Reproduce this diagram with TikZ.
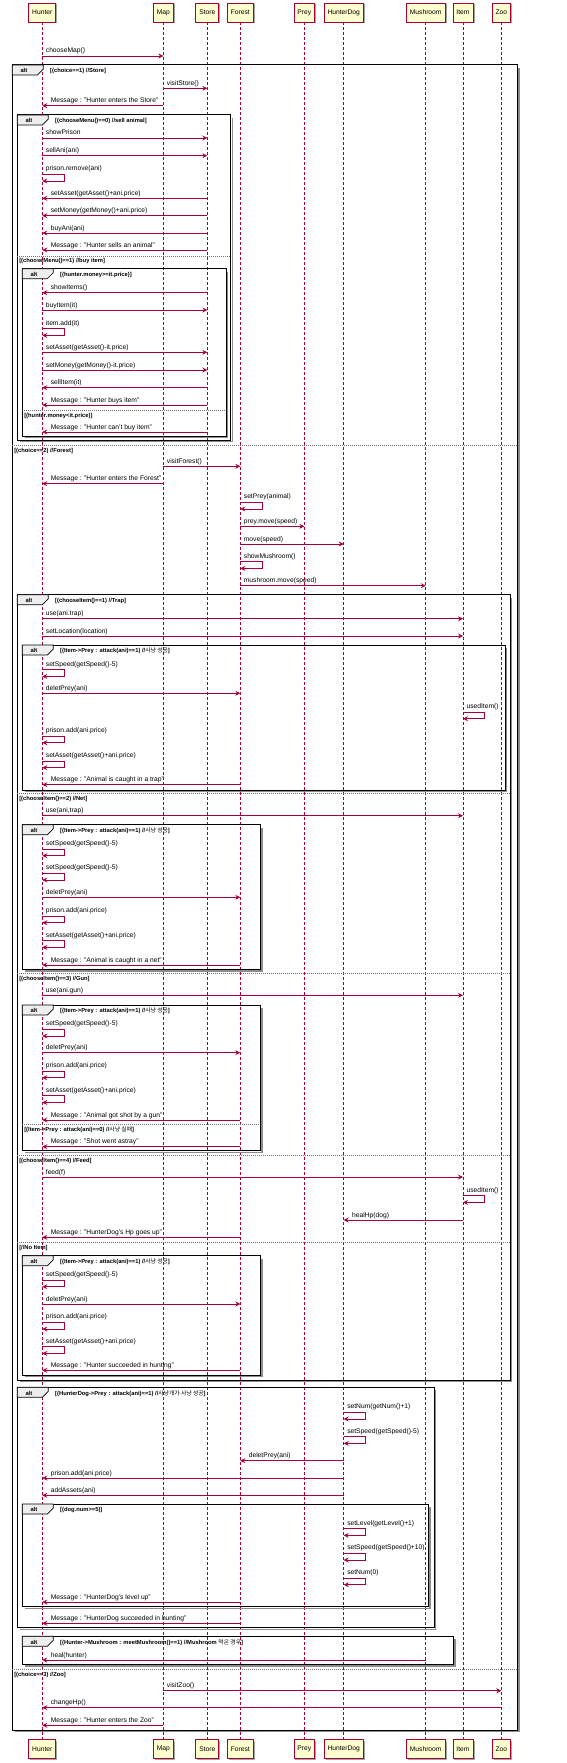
\documentclass[tikz,border=0pt]{standalone}
\usepackage{fontspec}
\setmainfont{Liberation Sans}
\newfontfamily\kr{Noto Sans CJK KR}
\usetikzlibrary{arrows.meta,shadows}
\definecolor{pu}{HTML}{A80036}
\definecolor{pbox}{HTML}{FEFECE}
\definecolor{tabc}{HTML}{EEEEEE}
\tikzset{
  part/.style={draw=pu, fill=pbox, line width=0.8pt, minimum height=19pt, inner xsep=3.5pt, inner ysep=0pt,
    font=\fontsize{6.7}{8}\selectfont,
    drop shadow={shadow xshift=1.5pt,shadow yshift=-1.5pt,opacity=0.35,fill=black}},
  life/.style={draw=pu, line width=0.5pt, dash pattern=on 2.5pt off 2.5pt},
  msgline/.style={draw=pu, line width=0.6pt, -{Stealth[length=5pt,width=5pt,inset=1.8pt]}},
  lbl/.style={inner sep=0pt, font=\fontsize{6.7}{8}\selectfont},
  flbl/.style={inner sep=0pt, font=\fontsize{5.8}{7}\selectfont\bfseries},
  frline/.style={draw=black, line width=1pt},
  frshadow/.style={draw=black!45, line width=1.6pt},
  sepline/.style={draw=black!55, line width=0.5pt, dash pattern=on 1pt off 1pt}
}
\newcommand\msgr[4]{%
  \draw[msgline] (#1|-0,#3) -- (#2|-0,#3);
  \node[lbl,anchor=base west,xshift=3.4pt,yshift=3pt] at (#1|-0,#3) {#4};}
\newcommand\msgl[4]{%
  \draw[msgline] (#1|-0,#3) -- (#2|-0,#3);
  \node[lbl,anchor=base west,xshift=8.3pt,yshift=3pt] at (#2|-0,#3) {#4};}
\newcommand\selfmsg[3]{%
  \draw[msgline] (#1|-0,#2) -- ++(21.7,0) -- ++(0,6.7) -- ++(-21.7,0);
  \node[lbl,anchor=base west,xshift=3.4pt,yshift=3.5pt] at (#1|-0,#2) {#3};}
\newcommand\frm[5]{%
  \draw[frshadow] (#1+3,#4+1.6) -- (#3+1.6,#4+1.6) -- (#3+1.6,#2+3);
  \draw[frline] (#1,#2) rectangle (#3,#4);
  \draw[frline,fill=tabc,line width=0.7pt] (#1,#2) -- (#1+31,#2) -- (#1+31,#2+4) -- (#1+25,#2+10) -- (#1,#2+10) -- cycle;
  \node[flbl,anchor=base west] at (#1+8,#2+7.8) {alt};
  \node[flbl,anchor=base west] at (#1+37.7,#2+7.8) {#5};}
\newcommand\sepl[4]{%
  \draw[sepline] (#1,#3) -- (#2,#3);
  \node[flbl,anchor=base west] at (#1+1.8,#3+6.8) {#4};}
\begin{document}
\begin{tikzpicture}[x=1pt,y=-1pt]
\useasboundingbox (0,0) rectangle (567,1763);
% participants
\foreach \n/\x in {Hunter/42.3,Map/163.3,Store/207.3,Forest/240.3,Prey/304.3,HunterDog/343.7,Mushroom/425.7,Item/463,Zoo/501.3}{
  \node[part] (p\n) at (\x,12.5) {\n};
  \node[part] (q\n) at (\x,1749) {\n};
}
\foreach \n in {Hunter,Map,Store,Forest,Prey,HunterDog,Mushroom,Item,Zoo}{
  \draw[life] (p\n.south) -- (q\n.north);
}
\msgr{pHunter}{pMap}{56}{chooseMap()}
\frm{12.3}{65}{517.3}{1730}{[(choice==1) //Store]}
\msgr{pMap}{pStore}{88.3}{visitStore()}
\msgl{pMap}{pHunter}{105.7}{Message : "Hunter enters the Store"}
\frm{17.3}{115}{230.7}{440}{[(chooseMenu()==0) //sell animal]}
\msgr{pHunter}{pStore}{138}{showPrison}
\msgr{pHunter}{pStore}{155.7}{sellAni(ani)}
\selfmsg{pHunter}{174.3}{prison.remove(ani)}
\msgl{pStore}{pHunter}{198.3}{setAsset(getAsset()+ani.price)}
\msgl{pStore}{pHunter}{215.7}{setMoney(getMoney()+ani.price)}
\msgl{pStore}{pHunter}{233}{buyAni(ani)}
\msgl{pStore}{pHunter}{250}{Message : "Hunter sells an animal"}
\sepl{17.3}{230.7}{256}{[(chooseMenu()==1) //buy item]}
\frm{22.3}{268.7}{226}{436}{[(hunter.money>=it.price)]}
\msgl{pStore}{pHunter}{292.7}{showItems()}
\msgr{pHunter}{pStore}{310}{buyItem(it)}
\selfmsg{pHunter}{328.7}{item.add(it)}
\msgr{pHunter}{pStore}{352.3}{setAsset(getAsset()-it.price)}
\msgr{pHunter}{pStore}{370}{setMoney(getMoney()-it.price)}
\msgl{pStore}{pHunter}{387.7}{sellItem(it)}
\msgl{pStore}{pHunter}{405}{Message : "Hunter buys item"}
\sepl{22.3}{226}{410.3}{[(hunter.money<it.price)]}
\msgl{pStore}{pHunter}{432}{Message : "Hunter can't buy item"}
\sepl{12.3}{517.3}{445.3}{[(choice==2) //Forest]}
\msgr{pMap}{pForest}{466.3}{visitForest()}
\msgl{pMap}{pHunter}{483.7}{Message : "Hunter enters the Forest"}
\selfmsg{pForest}{502.3}{setPrey(animal)}
\msgr{pForest}{pPrey}{526.3}{prey.move(speed)}
\msgr{pForest}{pHunterDog}{544}{move(speed)}
\selfmsg{pForest}{561.7}{showMushroom()}
\msgr{pForest}{pMushroom}{585.7}{mushroom.move(speed)}
\frm{17.3}{594.7}{510}{1380}{[(chooseItem()==1) //Trap]}
\msgr{pHunter}{pItem}{618.7}{use(ani.trap)}
\msgr{pHunter}{pItem}{636}{setLocation(location)}
\frm{22.3}{645}{505}{790}{[(Item->Prey : attack(ani)==1) //{\mdseries\kr 사냥 성공}]}
\selfmsg{pHunter}{669.7}{setSpeed(getSpeed()-5)}
\msgr{pHunter}{pForest}{693.3}{deletPrey(ani)}
\selfmsg{pItem}{712}{usedItem()}
\selfmsg{pHunter}{736}{prison.add(ani.price)}
\selfmsg{pHunter}{761}{setAsset(getAsset()+ani.price)}
\msgl{pForest}{pHunter}{784.7}{Message : "Animal is caught in a trap"}
\sepl{17.3}{510}{793.7}{[(chooseItem()==2) //Net]}
\msgr{pHunter}{pItem}{815.7}{use(ani,trap)}
\frm{22.3}{824.7}{260.3}{969.3}{[(Item->Prey : attack(ani)==1) //{\mdseries\kr 사냥 성공}]}
\selfmsg{pHunter}{849}{setSpeed(getSpeed()-5)}
\selfmsg{pHunter}{873.3}{setSpeed(getSpeed()-5)}
\msgr{pHunter}{pForest}{897.3}{deletPrey(ani)}
\selfmsg{pHunter}{916}{prison.add(ani.price)}
\selfmsg{pHunter}{940.7}{setAsset(getAsset()+ani.price)}
\msgl{pForest}{pHunter}{965}{Message : "Animal is caught in a net"}
\sepl{17.3}{510}{973.3}{[(chooseItem()==3) //Gun]}
\msgr{pHunter}{pItem}{995.3}{use(ani.gun)}
\frm{22.3}{1005}{260.3}{1150.7}{[(Item->Prey : attack(ani)==1) //{\mdseries\kr 사냥 성공}]}
\selfmsg{pHunter}{1029.3}{setSpeed(getSpeed()-5)}
\msgr{pHunter}{pForest}{1052.7}{deletPrey(ani)}
\selfmsg{pHunter}{1071}{prison.add(ani.price)}
\selfmsg{pHunter}{1095.7}{setAsset(getAsset()+ani.price)}
\msgl{pForest}{pHunter}{1120}{Message : "Animal got shot by a gun"}
\sepl{22.3}{260.3}{1124.7}{[(Item->Prey : attack(ani)==0) //{\mdseries\kr 사냥 실패}]}
\msgl{pForest}{pHunter}{1146.7}{Message : "Shot went astray"}
\sepl{17.3}{510}{1155.7}{[(chooseItem()==4) //Feed]}
\msgr{pHunter}{pItem}{1177}{feed(f)}
\selfmsg{pItem}{1195.7}{usedItem()}
\msgl{pItem}{pHunterDog}{1220}{healHp(dog)}
\msgl{pForest}{pHunter}{1237.3}{Message : "HunterDog's Hp goes up"}
\sepl{17.3}{510}{1242.7}{[//No Item]}
\frm{22.3}{1255.7}{260.3}{1375}{[(Item->Prey : attack(ani)==1) //{\mdseries\kr 사냥 성공}]}
\selfmsg{pHunter}{1280}{setSpeed(getSpeed()-5)}
\msgr{pHunter}{pForest}{1304}{deletPrey(ani)}
\selfmsg{pHunter}{1322.3}{prison.add(ani.price)}
\selfmsg{pHunter}{1346.7}{setAsset(getAsset()+ani.price)}
\msgl{pForest}{pHunter}{1370.3}{Message : "Hunter succeeded in hunting"}
\frm{17.3}{1387.3}{434}{1627.7}{[(HunterDog->Prey : attack(ani)==1) //{\mdseries\kr 사냥개가 사냥 성공}]}
\selfmsg{pHunterDog}{1412.3}{setNum(getNum()+1)}
\selfmsg{pHunterDog}{1436.7}{setSpeed(getSpeed()-5)}
\msgl{pHunterDog}{pForest}{1460.7}{deletPrey(ani)}
\msgl{pHunterDog}{pHunter}{1478}{prison.add(ani.price)}
\msgl{pHunterDog}{pHunter}{1495.3}{addAssets(ani)}
\frm{22.3}{1504}{428.3}{1606.7}{[(dog.num>=5)]}
\selfmsg{pHunterDog}{1528.7}{setLevel(getLevel()+1)}
\selfmsg{pHunterDog}{1553.3}{setSpeed(getSpeed()+10)}
\selfmsg{pHunterDog}{1578}{setNum(0)}
\msgl{pForest}{pHunter}{1602}{Message : "HunterDog's level up"}
\msgl{pForest}{pHunter}{1623.3}{Message : "HunterDog succeeded in hunting"}
\frm{22.3}{1636.3}{453.3}{1664.3}{[(Hunter->Mushroom : meetMushroom()==1) //Mushroom {\mdseries\kr 먹은 경우}]}
\msgl{pMushroom}{pHunter}{1660}{heal(hunter)}
\sepl{12.3}{517.3}{1669.3}{[(choice==3) //Zoo]}
\msgr{pMap}{pZoo}{1690.7}{visitZoo()}
\msgl{pZoo}{pHunter}{1707.7}{changeHp()}
\msgl{pMap}{pHunter}{1725.3}{Message : "Hunter enters the Zoo"}
\end{tikzpicture}
\end{document}
